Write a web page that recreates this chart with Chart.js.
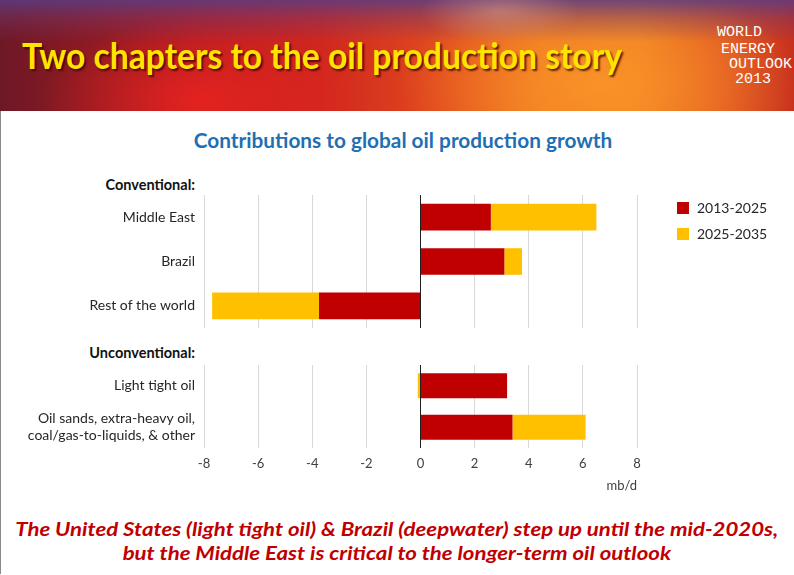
<!DOCTYPE html>
<html>
<head>
<meta charset="utf-8">
<script src="https://cdn.jsdelivr.net/npm/chart.js@4/dist/chart.umd.min.js"></script>
<style>
  html, body { margin:0; padding:0; }
  body { width:794px; height:575px; position:relative; overflow:hidden; background:#fff; font-family: Lato, "Noto Sans", sans-serif; }
  #banner { position:absolute; left:0; top:0; width:794px; height:111px;
    background:
      radial-gradient(ellipse 80px 30px at 500px 12px, rgba(225,170,150,0.45), rgba(225,170,150,0) 100%),
      linear-gradient(180deg, rgba(90,60,130,0.85) 0px, rgba(110,55,110,0.45) 18px, rgba(0,0,0,0) 42px),
      radial-gradient(ellipse 200px 110px at 600px 85px, rgba(250,150,40,0.85), rgba(250,140,40,0) 100%),
      radial-gradient(ellipse 160px 80px at 200px 100px, rgba(235,35,30,0.85), rgba(220,30,30,0) 100%),
      linear-gradient(90deg, #6e1826 0%, #8e1a22 12%, #b81e22 25%, #d0261e 40%, #e0481e 55%, #ef7522 68%, #f07e24 80%, #e25a22 90%, #c8301e 100%);
  }
  #title { position:absolute; left:22px; top:35px; color:#ffe400; font-weight:bold; font-size:36px; white-space:nowrap;
    text-shadow: 2px 2px 2px rgba(60,0,0,0.8); transform-origin:0 0; line-height:40px; }
  .weo { position:absolute; color:#fff; font-family:"Liberation Mono", "DejaVu Sans Mono", monospace; font-size:15px; line-height:16px; }
  #chartTitle { position:absolute; left:0; width:806px; top:127px; text-align:center; color:#1f6fb2; font-weight:bold; font-size:20.8px; }
  .hdr { position:absolute; right:599px; font-weight:bold; font-size:14.5px; color:#111; }
  .box { position:absolute; }
  #legend { position:absolute; left:677px; top:199px; font-size:14px; color:#262626; white-space:nowrap; }
  .li { height:26px; position:relative; width:110px; }
  .sw { position:absolute; left:0; top:3px; width:12px; height:12px; }
  .lt { position:absolute; left:20px; top:0; line-height:18px; }
  #unit { position:absolute; right:157px; top:477px; font-size:13px; color:#404040; }
  #note { position:absolute; left:0; width:794px; top:517px; text-align:center; color:#c00000; font-weight:bold; font-style:italic; font-size:19px; line-height:24px; }
  #note div { white-space:nowrap; display:inline-block; transform-origin:50% 0; }
  #frame { position:absolute; left:0; top:111px; width:792px; height:463px; border-left:1px solid #8a8a8a; }
</style>
</head>
<body>
<div id="banner"></div>
<div id="title">Two chapters to the oil production story</div>
<div class="weo" style="left:717px;top:25px;">WORLD</div>
<div class="weo" style="left:721px;top:42px;">ENERGY</div>
<div class="weo" style="left:729px;top:57px;">OUTLOOK</div>
<div class="weo" style="left:735px;top:72px;">2013</div>
<div id="frame"></div>
<div id="chartTitle">Contributions to global oil production growth</div>
<div class="hdr" style="top:176px;">Conventional:</div>
<div class="hdr" style="top:344px;">Unconventional:</div>
<div class="box" style="left:0;top:195px;width:680px;height:133px;"><canvas id="c1"></canvas></div>
<div class="box" style="left:0;top:365px;width:680px;height:123px;"><canvas id="c2"></canvas></div>
<div id="legend"></div>
<div id="unit"></div>
<div id="note"><div id="n1">The United States (light tight oil) &amp; Brazil (deepwater) step up until the mid-2020s,</div><br><div id="n2">but the Middle East is critical to the longer-term oil outlook</div></div>
<script>
// ---- data ----
const seriesNames = ['2013-2025', '2025-2035'];
const seriesColors = ['#c00000', '#ffc000'];
const conventionalCategories = ['Middle East', 'Brazil', 'Rest of the world'];
const conventional2013_2025 = [2.6, 3.1, -3.75];
const conventional2025_2035 = [3.9, 0.65, -3.95];
const unconventionalCategories = ['Light tight oil', ['Oil sands, extra-heavy oil,', 'coal/gas-to-liquids, & other']];
const unconventional2013_2025 = [3.2, 3.4];
const unconventional2025_2035 = [-0.1, 2.7];
const xMin = -8, xMax = 8, xStep = 2;
const unitLabel = 'mb/d';

document.getElementById('unit').textContent = unitLabel;

// fit banner title and note widths
(function(){
  const t = document.getElementById('title');
  const w = t.getBoundingClientRect().width;
  t.style.transform = 'scaleX(' + (600 / w) + ')';
  const n1 = document.getElementById('n1');
  const w1 = n1.getBoundingClientRect().width;
  const s = 763 / w1;
  n1.style.transform = 'scaleX(' + s + ')';
  document.getElementById('n2').style.transform = 'scaleX(' + s + ')';
})();

// legend
const lg = document.getElementById('legend');
seriesNames.forEach((n, i) => {
  const d = document.createElement('div'); d.className = 'li';
  d.innerHTML = '<span class="sw" style="background:' + seriesColors[i] + '"></span><span class="lt">' + n + '</span>';
  lg.appendChild(d);
});

const FONT = 'Lato, "Noto Sans", sans-serif';
function makeChart(id, cats, a, b, showTicks) {
  return new Chart(document.getElementById(id), {
    type: 'bar',
    data: {
      labels: cats,
      datasets: [
        { label: seriesNames[0], data: a, backgroundColor: seriesColors[0], barPercentage: 0.6, categoryPercentage: 1 },
        { label: seriesNames[1], data: b, backgroundColor: seriesColors[1], barPercentage: 0.6, categoryPercentage: 1 }
      ]
    },
    options: {
      indexAxis: 'y',
      responsive: true,
      maintainAspectRatio: false,
      animation: false,
      layout: { padding: { left: 0, right: 43, top: 0, bottom: 0 } },
      plugins: { legend: { display: false }, tooltip: { enabled: false } },
      scales: {
        x: {
          stacked: true, min: xMin, max: xMax,
          border: { display: false },
          grid: { drawTicks: false, lineWidth: 1,
            color: (ctx) => (ctx.tick && ctx.tick.value === 0) ? '#202020' : '#d9d9d9' },
          ticks: { display: showTicks, stepSize: xStep, padding: 8, color: '#404040', font: { family: FONT, size: 13 } },
          afterFit: (scale) => { scale.height = showTicks ? 40 : 0; }
        },
        y: {
          stacked: true,
          border: { display: false },
          grid: { display: false, drawTicks: false },
          ticks: { autoSkip: false, padding: 9, color: '#262626', font: { family: FONT, size: 14 }, lineHeight: 1.2 },
          afterFit: (scale) => { scale.width = 204; scale.paddingTop = 0; scale.paddingBottom = 0; }
        }
      }
    }
  });
}
makeChart('c1', conventionalCategories, conventional2013_2025, conventional2025_2035, false);
makeChart('c2', unconventionalCategories, unconventional2013_2025, unconventional2025_2035, true);
</script>
</body>
</html>
